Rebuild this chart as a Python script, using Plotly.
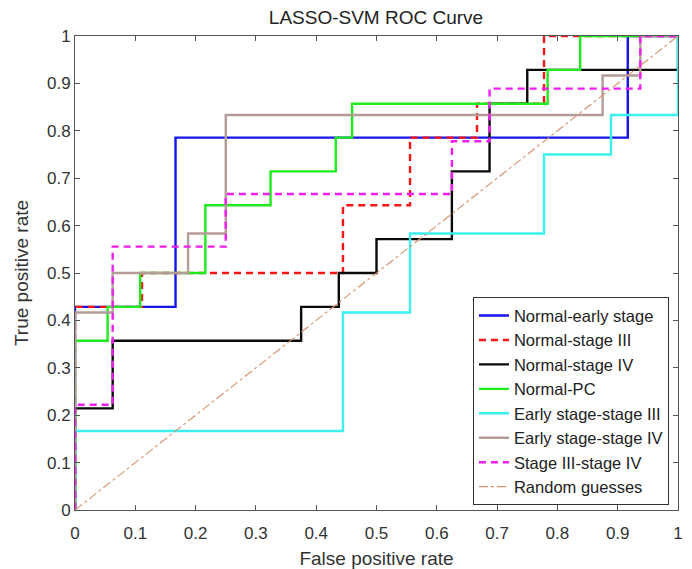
import plotly.graph_objects as go

# ROC curve vertices (false positive rate, true positive rate)
normal_early_fpr = [0, 0, 0.1667, 0.1667, 0.9167, 0.9167, 1]
normal_early_tpr = [0, 0.4286, 0.4286, 0.7857, 0.7857, 1, 1]

normal_s3_fpr = [0, 0, 0.1111, 0.1111, 0.4444, 0.4444, 0.5556, 0.5556, 0.6667, 0.6667, 0.7778, 0.7778, 1]
normal_s3_tpr = [0, 0.4286, 0.4286, 0.5, 0.5, 0.6429, 0.6429, 0.7857, 0.7857, 0.8571, 0.8571, 1, 1]

normal_s4_fpr = [0, 0, 0.0625, 0.0625, 0.375, 0.375, 0.4375, 0.4375, 0.5, 0.5, 0.625, 0.625, 0.6875, 0.6875, 0.75, 0.75, 1, 1]
normal_s4_tpr = [0, 0.2143, 0.2143, 0.3571, 0.3571, 0.4286, 0.4286, 0.5, 0.5, 0.5714, 0.5714, 0.7143, 0.7143, 0.8571, 0.8571, 0.9286, 0.9286, 1]

normal_pc_fpr = [0, 0, 0.0541, 0.0541, 0.1081, 0.1081, 0.2162, 0.2162, 0.3243, 0.3243, 0.4324, 0.4324, 0.4595, 0.4595, 0.7838, 0.7838, 0.8378, 0.8378, 1]
normal_pc_tpr = [0, 0.3571, 0.3571, 0.4286, 0.4286, 0.5, 0.5, 0.6429, 0.6429, 0.7143, 0.7143, 0.7857, 0.7857, 0.8571, 0.8571, 0.9286, 0.9286, 1, 1]

early_s3_fpr = [0, 0, 0.4444, 0.4444, 0.5556, 0.5556, 0.7778, 0.7778, 0.8889, 0.8889, 1, 1]
early_s3_tpr = [0, 0.1667, 0.1667, 0.4167, 0.4167, 0.5833, 0.5833, 0.75, 0.75, 0.8333, 0.8333, 1]

early_s4_fpr = [0, 0, 0.0625, 0.0625, 0.1875, 0.1875, 0.25, 0.25, 0.875, 0.875, 0.9375, 0.9375, 1]
early_s4_tpr = [0, 0.4167, 0.4167, 0.5, 0.5, 0.5833, 0.5833, 0.8333, 0.8333, 0.9167, 0.9167, 1, 1]

s3_s4_fpr = [0, 0, 0.0625, 0.0625, 0.25, 0.25, 0.625, 0.625, 0.6875, 0.6875, 0.9375, 0.9375, 1]
s3_s4_tpr = [0, 0.2222, 0.2222, 0.5556, 0.5556, 0.6667, 0.6667, 0.7778, 0.7778, 0.8889, 0.8889, 1, 1]

random_fpr = [0, 1]
random_tpr = [0, 1]

series = [
    ("Normal-early stage", normal_early_fpr, normal_early_tpr, "rgb(20,20,235)", "solid", 2.4),
    ("Normal-stage III", normal_s3_fpr, normal_s3_tpr, "rgb(250,20,20)", "7px,5px", 2.4),
    ("Normal-stage IV", normal_s4_fpr, normal_s4_tpr, "rgb(10,10,10)", "solid", 2.4),
    ("Normal-PC", normal_pc_fpr, normal_pc_tpr, "rgb(30,235,30)", "solid", 2.4),
    ("Early stage-stage III", early_s3_fpr, early_s3_tpr, "rgb(60,240,240)", "solid", 2.4),
    ("Early stage-stage IV", early_s4_fpr, early_s4_tpr, "rgb(180,157,152)", "solid", 2.4),
    ("Stage III-stage IV", s3_s4_fpr, s3_s4_tpr, "rgb(240,30,240)", "7px,5px", 2.4),
    ("Random guesses", random_fpr, random_tpr, "rgb(215,145,110)", "dashdot", 1.1),
]

fig = go.Figure()
for name, xs, ys, color, dash, width in series:
    fig.add_trace(go.Scatter(x=xs, y=ys, mode="lines", name=name,
                             line=dict(color=color, dash=dash, width=width)))

font_family = "Liberation Sans, Arial, sans-serif"
axis_common = dict(
    range=[0, 1], dtick=0.1, tick0=0, showgrid=False, zeroline=False,
    showline=True, linecolor="#555", linewidth=1, mirror="ticks",
    ticks="inside", ticklen=5, tickcolor="#555", automargin=False,
    tickfont=dict(family=font_family, size=17, color="#333"),
)

# the page body adds an 8px offset, so the figure is sized to the remaining window
fig.update_layout(
    width=684, height=561,
    margin=dict(l=67, r=14, t=28, b=59),
    paper_bgcolor="white", plot_bgcolor="white",
    title=dict(text="LASSO-SVM ROC Curve", x=0.538, xanchor="center",
               y=0.984, yanchor="middle", yref="container", automargin=False,
               font=dict(family=font_family, size=19, color="#222")),
    xaxis=dict(axis_common, ticklabelstandoff=8,
               title=dict(text="False positive rate", standoff=12,
                          font=dict(family=font_family, size=19, color="#333"))),
    yaxis=dict(axis_common,
               title=dict(text="True positive rate", standoff=13,
                          font=dict(family=font_family, size=19, color="#333"))),
    legend=dict(x=0.985, y=0.01, xanchor="right", yanchor="bottom",
                bgcolor="white", bordercolor="#333", borderwidth=1,
                font=dict(family=font_family, size=16.5, color="#222"),
                tracegroupgap=0, itemwidth=30),
    showlegend=True,
)

fig.write_html("out.html")
